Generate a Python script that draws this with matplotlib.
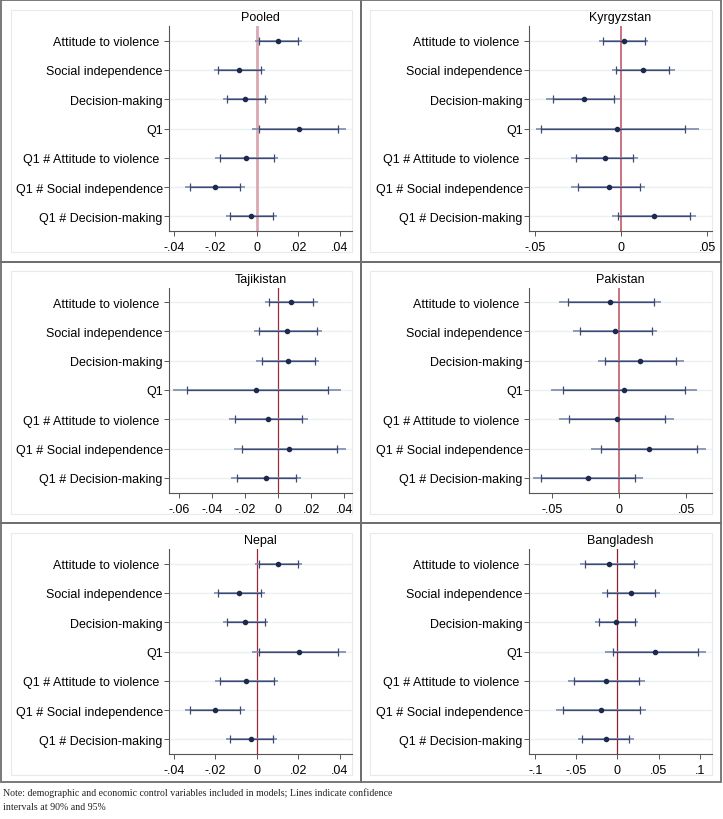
import matplotlib
matplotlib.use("Agg")
import matplotlib.pyplot as plt
from matplotlib.patches import Rectangle

W, H = 723, 820

labels = ["Attitude to violence ", "Social independence", "Decision-making", "Q1",
          "Q1 # Attitude to violence ", "Q1 # Social independence", "Q1 # Decision-making"]

# coefficient, 90% CI (lo, hi), 95% CI (lo, hi) per panel
pooled_b = [0.0104, -0.0085, -0.0056, 0.0202, -0.0050, -0.0202, -0.0026]
pooled_lo90 = [0.0011, -0.0187, -0.0142, 0.0011, -0.0178, -0.0323, -0.0131]
pooled_hi90 = [0.0197, 0.0021, 0.0038, 0.0392, 0.0085, -0.0080, 0.0080]
pooled_lo95 = [-0.0008, -0.0208, -0.0165, -0.0021, -0.0203, -0.0347, -0.0150]
pooled_hi95 = [0.0216, 0.0040, 0.0053, 0.0429, 0.0104, -0.0056, 0.0096]

kyr_b = [0.0017, 0.0128, -0.0217, -0.0023, -0.0095, -0.0072, 0.0194]
kyr_lo90 = [-0.0107, -0.0027, -0.0398, -0.0466, -0.0260, -0.0250, -0.0016]
kyr_hi90 = [0.0138, 0.0281, -0.0039, 0.0374, 0.0070, 0.0112, 0.0403]
kyr_lo95 = [-0.0130, -0.0056, -0.0435, -0.0493, -0.0291, -0.0291, -0.0056]
kyr_hi95 = [0.0157, 0.0312, -0.0008, 0.0452, 0.0099, 0.0141, 0.0438]

taj_b = [0.0078, 0.0055, 0.0057, -0.0133, -0.0063, 0.0067, -0.0073]
taj_lo90 = [-0.0055, -0.0116, -0.0102, -0.0557, -0.0263, -0.0218, -0.0253]
taj_hi90 = [0.0212, 0.0233, 0.0220, 0.0302, 0.0143, 0.0357, 0.0108]
taj_lo95 = [-0.0082, -0.0149, -0.0133, -0.0639, -0.0302, -0.0271, -0.0286]
taj_hi95 = [0.0239, 0.0265, 0.0249, 0.0382, 0.0182, 0.0408, 0.0139]

pak_b = [-0.0068, -0.0028, 0.0158, 0.0033, -0.0018, 0.0223, -0.0233]
pak_lo90 = [-0.0383, -0.0290, -0.0105, -0.0420, -0.0375, -0.0138, -0.0578]
pak_hi90 = [0.0260, 0.0243, 0.0425, 0.0493, 0.0343, 0.0578, 0.0115]
pak_lo95 = [-0.0448, -0.0340, -0.0160, -0.0510, -0.0448, -0.0208, -0.0640]
pak_hi95 = [0.0315, 0.0285, 0.0480, 0.0580, 0.0410, 0.0643, 0.0180]

nep_b = [0.0102, -0.0085, -0.0056, 0.0202, -0.0050, -0.0202, -0.0026]
nep_lo90 = [0.0011, -0.0187, -0.0142, 0.0011, -0.0178, -0.0323, -0.0131]
nep_hi90 = [0.0197, 0.0021, 0.0038, 0.0392, 0.0085, -0.0080, 0.0080]
nep_lo95 = [-0.0008, -0.0208, -0.0165, -0.0021, -0.0203, -0.0347, -0.0150]
nep_hi95 = [0.0216, 0.0040, 0.0053, 0.0429, 0.0104, -0.0056, 0.0096]

ban_b = [-0.0100, 0.0161, -0.0012, 0.0462, -0.0137, -0.0197, -0.0145]
ban_lo90 = [-0.0394, -0.0129, -0.0225, -0.0056, -0.0530, -0.0659, -0.0434]
ban_hi90 = [0.0201, 0.0462, 0.0213, 0.0984, 0.0261, 0.0277, 0.0145]
ban_lo95 = [-0.0450, -0.0193, -0.0273, -0.0153, -0.0602, -0.0743, -0.0482]
ban_hi95 = [0.0249, 0.0514, 0.0253, 0.1072, 0.0329, 0.0353, 0.0201]

ticks_04 = [-0.04, -0.02, 0, 0.02, 0.04]
ticklabels_04 = ["-.04", "-.02", "0", ".02", ".04"]
ticks_05 = [-0.05, 0, 0.05]
ticklabels_05 = ["-.05", "0", ".05"]
ticks_06 = [-0.06, -0.04, -0.02, 0, 0.02, 0.04]
ticklabels_06 = ["-.06", "-.04", "-.02", "0", ".02", ".04"]
ticks_1 = [-0.1, -0.05, 0, 0.05, 0.1]
ticklabels_1 = ["-.1", "-.05", "0", ".05", ".1"]

panels = [
    ("Pooled", (pooled_b, pooled_lo90, pooled_hi90, pooled_lo95, pooled_hi95),
     (-0.0424, 0.0458), ticks_04, ticklabels_04, ("#dba7b1", 2.0)),
    ("Kyrgyzstan", (kyr_b, kyr_lo90, kyr_hi90, kyr_lo95, kyr_hi95),
     (-0.0538, 0.0529), ticks_05, ticklabels_05, ("#c45868", 1.2)),
    ("Tajikistan", (taj_b, taj_lo90, taj_hi90, taj_lo95, taj_hi95),
     (-0.0665, 0.0447), ticks_06, ticklabels_06, ("#a02838", 0.9)),
    ("Pakistan", (pak_b, pak_lo90, pak_hi90, pak_lo95, pak_hi95),
     (-0.0673, 0.0691), ticks_05, ticklabels_05, ("#c45868", 1.2)),
    ("Nepal", (nep_b, nep_lo90, nep_hi90, nep_lo95, nep_hi95),
     (-0.0424, 0.0458), ticks_04, ticklabels_04, ("#9a2838", 0.9)),
    ("Bangladesh", (ban_b, ban_lo90, ban_hi90, ban_lo95, ban_hi95),
     (-0.108, 0.115), ticks_1, ticklabels_1, ("#8e2030", 0.9)),
]

plt.rcParams["font.family"] = ["Liberation Sans", "DejaVu Sans"]
fig = plt.figure(figsize=(W / 100, H / 100), dpi=100)

col_x = [(1, 361), (361, 721)]
row_y = [(1, 262.5), (262.5, 524), (524, 783)]
FS = 9.0


def rect(x0, y0, x1, y1):
    return [x0 / W, 1 - y1 / H, (x1 - x0) / W, (y1 - y0) / H]


for i, (title, data, xlim, ticks, ticklabels, zline) in enumerate(panels):
    x0, x1 = col_x[i % 2]
    y0, y1 = row_y[i // 2]
    inset_bottom = 7 if i >= 4 else 9.5

    # panel border and light inner frame
    fig.patches.append(Rectangle((x0 / W, 1 - y1 / H), (x1 - x0) / W, (y1 - y0) / H,
                                 transform=fig.transFigure, fill=False,
                                 edgecolor="#6e6e6e", lw=1.3, zorder=-1))
    fig.patches.append(Rectangle(((x0 + 9.5) / W, 1 - (y1 - inset_bottom) / H),
                                 (x1 - x0 - 19) / W, (y1 - y0 - 9.5 - inset_bottom) / H,
                                 transform=fig.transFigure, fill=False,
                                 edgecolor="#e3ebee", lw=0.8, zorder=-1))

    ax = fig.add_axes(rect(x0 + 167.7, y0 + 26, x0 + 351, y0 + 231))
    b, lo90, hi90, lo95, hi95 = data
    ypos = list(range(1, len(labels) + 1))

    for y in ypos:
        ax.axhline(y, color="#eaf0f3", lw=1.0, zorder=1)
    ax.axvline(0, color=zline[0], lw=zline[1], zorder=2)

    ax.hlines(ypos, lo95, hi95, color="#8592b0", lw=1.3, zorder=3)
    ax.hlines(ypos, lo90, hi90, color="#3b4973", lw=0.9, zorder=4)
    ax.plot(lo90, ypos, "|", color="#3b4973", ms=6, mew=0.9, zorder=4)
    ax.plot(hi90, ypos, "|", color="#3b4973", ms=6, mew=0.9, zorder=4)
    ax.plot(b, ypos, "o", color="#1c2a4e", ms=3.0, zorder=5)

    ax.set_xlim(*xlim)
    ax.set_ylim(len(labels) + 0.5, 0.5)
    ax.set_yticks(ypos)
    ax.set_yticklabels(labels, fontsize=FS)
    ax.set_xticks(ticks)
    ax.set_xticklabels(ticklabels, fontsize=FS)
    ax.tick_params(axis="both", length=3.5, width=0.7, color="#555555")
    ax.tick_params(axis="y", pad=0.8)
    ax.tick_params(axis="x", pad=4.0)
    ax.set_title(title, fontsize=FS, pad=4)

    for side in ["top", "right"]:
        ax.spines[side].set_visible(False)
    for side in ["left", "bottom"]:
        ax.spines[side].set_color("#555555")
        ax.spines[side].set_linewidth(0.8)
    ax.set_facecolor("none")

note_font = ["Liberation Serif", "DejaVu Serif"]
fig.text(3 / W, 1 - 793 / H,
         "Note: demographic and economic control variables included in models; Lines indicate confidence",
         fontsize=7.1, family=note_font, va="center", ha="left", color="#222222")
fig.text(3 / W, 1 - 808 / H, "intervals at 90% and 95%",
         fontsize=7.1, family=note_font, va="center", ha="left", color="#222222")

fig.savefig("out.png", dpi=100)
